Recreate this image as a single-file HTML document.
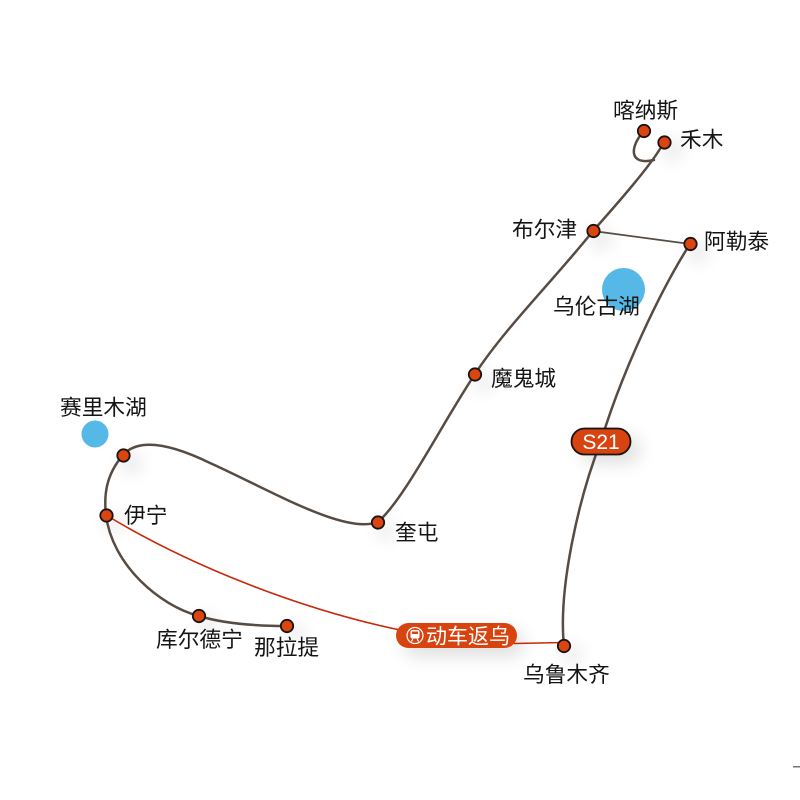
<!DOCTYPE html>
<html lang="zh">
<head>
<meta charset="utf-8">
<title>新疆线路图</title>
<style>
html,body{margin:0;padding:0;background:#fff}
svg{display:block}
text{font-family:"Liberation Sans","Noto Sans CJK SC",sans-serif;font-size:21.700px;fill:#141414}
</style>
</head>
<body>
<svg width="800" height="800" viewBox="0 0 800 800" xmlns="http://www.w3.org/2000/svg">
<defs>
<filter id="s" x="-150%" y="-150%" width="400%" height="400%">
<feGaussianBlur stdDeviation="9"/>
</filter>
</defs>
<rect width="800" height="800" fill="#fff"/>

<!-- soft shadows -->
<g fill="#000" opacity=".13" filter="url(#s)">
<circle cx="672" cy="150" r="9"/>
<circle cx="601" cy="239" r="9"/>
<circle cx="698" cy="252" r="9"/>
<circle cx="483" cy="382" r="8"/>
<circle cx="386" cy="530" r="8"/>
<circle cx="131" cy="463" r="9"/>
<circle cx="114" cy="523" r="8"/>
<circle cx="207" cy="624" r="8"/>
<circle cx="295" cy="634" r="8"/>
<circle cx="572" cy="654" r="8"/>
<rect x="582" y="436" width="58" height="27" rx="13"/>
<rect x="404" y="631" width="120" height="25" rx="12"/>
</g>

<!-- lakes -->
<circle cx="623.500" cy="289.500" r="21.500" fill="#55b8e6"/>
<circle cx="95" cy="434" r="13.500" fill="#55b8e6"/>

<!-- connectors -->
<g fill="none" stroke="#574c44" stroke-linecap="round">
<path stroke-width="2.500" d="M664 142 C655 160 625 195 593 231 C553 281 505 328 475 374 C440 427 405 498 378 522 C345 535 270 490 210 463 C175 446 140 436 123 455 C105 476 104 497 106 515 C112 565 160 606 199 616 C225 624 260 626 287 626"/>
<path stroke-width="2.500" d="M644 131 C630 146 628 166 654 160"/>
<path stroke-width="1.800" d="M593 231 L690 244"/>
<path stroke-width="2.500" d="M690 244 C660 291 622 372 601 441 C578 500 558 590 564 646"/>
</g>
<path fill="none" stroke="#c8290b" stroke-width="1.600" d="M106 515 C190 566 300 609 400 630"/>
<path fill="none" stroke="#c8290b" stroke-width="1.600" d="M514 643.500 L564 642.500"/>

<!-- nodes -->
<g fill="#dc4510" stroke="#1a1410" stroke-width="1.800">
<circle cx="644" cy="131" r="6.200"/>
<circle cx="664.500" cy="142.500" r="6.200"/>
<circle cx="593.500" cy="231" r="6.200"/>
<circle cx="690.500" cy="244" r="6.200"/>
<circle cx="475" cy="374.500" r="6.200"/>
<circle cx="378" cy="522.500" r="6.200"/>
<circle cx="123.500" cy="455.500" r="6.200"/>
<circle cx="106.500" cy="515.500" r="6.200"/>
<circle cx="199" cy="616" r="6.200"/>
<circle cx="287" cy="626" r="6.200"/>
<circle cx="564" cy="646" r="6.200"/>
</g>

<!-- S21 badge -->
<rect x="571.500" y="428.500" width="59" height="26" rx="13" fill="#d8440f" stroke="#1a1410" stroke-width="1.800"/>
<text x="601" y="449" text-anchor="middle" style="fill:#fff;font-size:21px">S21</text>

<!-- train badge -->
<rect x="396" y="623" width="121" height="25" rx="12.500" fill="#d8440f"/>
<circle cx="415" cy="635.500" r="8" fill="none" stroke="#fff" stroke-width="1.200"/>
<rect x="410.500" y="630" width="9" height="8.500" rx="2" fill="#fff"/>
<rect x="412" y="631.500" width="6" height="2.500" fill="#d8440f"/>
<path d="M411.500 641.500 L413 638.500 M418.500 641.500 L417 638.500" stroke="#fff" stroke-width="1.100" fill="none"/>
<text x="426" y="643.500" style="fill:#fff;font-size:21px">动车返乌</text>

<!-- labels -->
<text x="613" y="118">喀纳斯</text>
<text x="680" y="147">禾木</text>
<text x="512" y="237">布尔津</text>
<text x="704" y="249">阿勒泰</text>
<text x="553" y="314">乌伦古湖</text>
<text x="491" y="386">魔鬼城</text>
<text x="395" y="540">奎屯</text>
<text x="60" y="415">赛里木湖</text>
<text x="124" y="523">伊宁</text>
<text x="156" y="647">库尔德宁</text>
<text x="254" y="655">那拉提</text>
<text x="523" y="682">乌鲁木齐</text>

<rect x="793" y="766" width="7" height="1.500" fill="#777"/>
</svg>
</body>
</html>
